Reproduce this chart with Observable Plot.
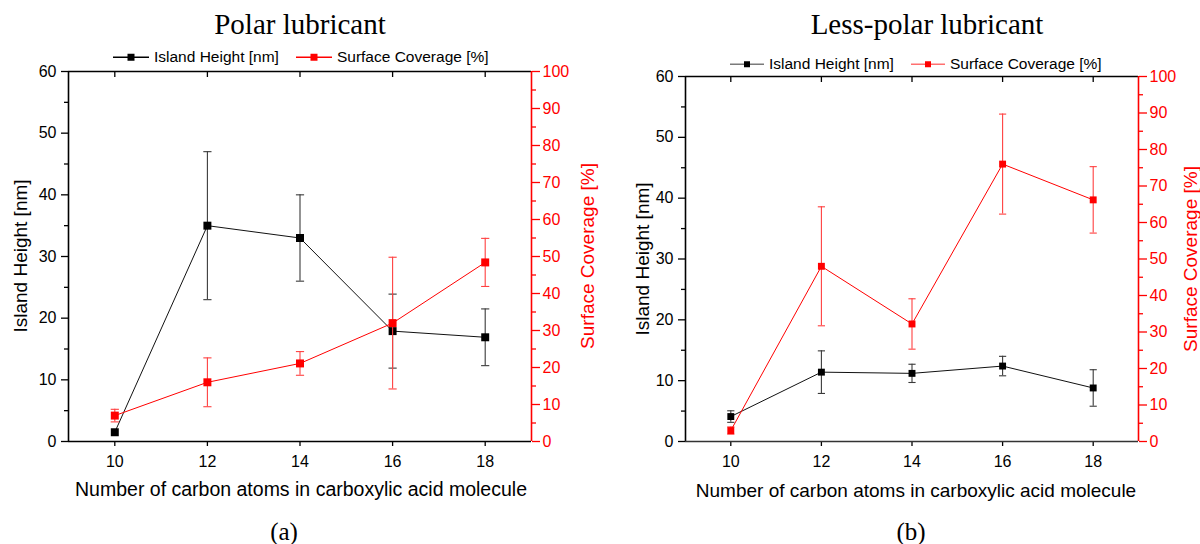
<!DOCTYPE html>
<html><head><meta charset="utf-8">
<script src="https://cdn.jsdelivr.net/npm/d3@7"></script>
<script src="https://cdn.jsdelivr.net/npm/@observablehq/plot@0.6"></script>
<style>
html,body{margin:0;padding:0;background:#fff;}
#root{position:relative;width:1200px;height:544px;overflow:hidden;font-family:"Liberation Sans",Arial,sans-serif;color:#000;}
.panel{position:absolute;top:0;width:600px;height:544px;}
.abs{position:absolute;white-space:nowrap;line-height:1;transform:translate(-50%,-50%);}
.title{font-family:"Liberation Serif","Times New Roman",serif;font-size:29px;}
.cap{font-family:"Liberation Serif","Times New Roman",serif;font-size:25px;}
.xt{font-size:19px;}
.yt{font-size:19px;transform:translate(-50%,-50%) rotate(-90deg);}
.legend{position:absolute;display:flex;align-items:center;font-size:15.5px;line-height:1;white-space:nowrap;transform:translateY(-50%);}
.legend svg{display:block;}
</style></head>
<body><div id="root"></div>
<script>
// ---- data ----
const carbonAtoms = [10, 12, 14, 16, 18];
const polarHeight = [1.5, 35.0, 33.0, 17.9, 16.9];
const polarHeightErr = [0, 12.0, 7.0, 6.0, 4.6];
const polarCoverage = [7.0, 16.0, 21.1, 32.0, 48.4];
const polarCoverageErr = [1.7, 6.6, 3.2, 17.8, 6.5];
const lessPolarHeight = [4.1, 11.4, 11.2, 12.4, 8.8];
const lessPolarHeightErr = [0.95, 3.5, 1.5, 1.6, 3.0];
const lessPolarCoverage = [3.0, 48.0, 32.2, 76.0, 66.2];
const lessPolarCoverageErr = [1.0, 16.3, 6.9, 13.7, 9.1];
const xTicks = [10, 12, 14, 16, 18];
const leftTicks = [0, 10, 20, 30, 40, 50, 60];
const leftMinor = [5, 15, 25, 35, 45, 55];
const rightTicks = [0, 10, 20, 30, 40, 50, 60, 70, 80, 90, 100];
const rightMinor = [5, 15, 25, 35, 45, 55, 65, 75, 85, 95];
const seriesNames = ["Island Height [nm]", "Surface Coverage [%]"];
const panelTitles = ["Polar lubricant", "Less-polar lubricant"];
const xTitle = "Number of carbon atoms in carboxylic acid molecule";
const captions = ["(a)", "(b)"];

const RED = "#ff0000";
const K = 60 / 100; // right axis (0-100) onto left axis (0-60)

const capSymbol = {
  draw(ctx, size) { const r = Math.sqrt(size / Math.PI); ctx.moveTo(-r, 0); ctx.lineTo(r, 0); }
};

function errMarks(data, yKey, eKey, stroke, capR, sw) {
  const bars = data.filter(d => d[eKey] > 0);
  return [
    Plot.ruleX(bars, {x: "c", y1: d => d[yKey] - d[eKey], y2: d => d[yKey] + d[eKey], stroke, strokeWidth: sw}),
    Plot.dot(bars, {x: "c", y: d => d[yKey] + d[eKey], symbol: capSymbol, r: capR, stroke, strokeWidth: sw, fill: "none"}),
    Plot.dot(bars, {x: "c", y: d => d[yKey] - d[eKey], symbol: capSymbol, r: capR, stroke, strokeWidth: sw, fill: "none"})
  ];
}

function makePanel(o) {
  const rows = carbonAtoms.map((c, i) => ({c, h: o.h[i], he: o.he[i], v: o.v[i] * K, ve: o.ve[i] * K}));
  return Plot.plot({
    width: 600, height: 544,
    marginLeft: o.ml, marginRight: o.mr, marginTop: o.mt, marginBottom: o.mb,
    x: {domain: [9, 19]},
    y: {domain: [0, 60]},
    style: {fontFamily: '"Liberation Sans", Arial, sans-serif', fontSize: "16px", background: "transparent", color: "#000"},
    marks: [
      Plot.axisY(leftTicks, {anchor: "left", tickSize: 7, tickPadding: 5, label: null, color: "#000", strokeWidth: 1.3}),
      Plot.axisY(leftMinor, {anchor: "left", tickSize: 4, label: null, stroke: "#000", fill: "none", strokeWidth: 1.3}),
      Plot.axisY(rightTicks.map(t => t * K), {anchor: "right", tickSize: 8, tickPadding: 3, label: null, color: RED, strokeWidth: 1.3, tickFormat: d => String(Math.round(d / K))}),
      Plot.axisY(rightMinor.map(t => t * K), {anchor: "right", tickSize: 4, label: null, stroke: RED, fill: "none", strokeWidth: 1.3}),
      Plot.axisX(xTicks, {anchor: "bottom", tickSize: 5, tickPadding: 9, label: null, color: "#000", strokeWidth: 1.3}),
      Plot.axisX(xTicks, {anchor: "top", tickSize: -5, label: null, stroke: "#000", fill: "none", strokeWidth: 1.3}),
      Plot.ruleX([9], {stroke: "#000", strokeWidth: 1.6}),
      Plot.ruleY([0], {stroke: o.bottomColor, strokeWidth: 1.6}),
      Plot.ruleY([60], {stroke: "#000", strokeWidth: 1.6}),
      Plot.ruleX([19], {stroke: RED, strokeWidth: 1.6}),
      ...errMarks(rows, "h", "he", "#3a3a3a", o.capR, 1.1),
      Plot.line(rows, {x: "c", y: "h", stroke: "#111", strokeWidth: 1}),
      Plot.dot(rows, {x: "c", y: "h", symbol: "square", r: o.markR, fill: "#000", stroke: "none"}),
      ...errMarks(rows, "v", "ve", "#ff4040", o.capR, 1.1),
      Plot.line(rows, {x: "c", y: "v", stroke: RED, strokeWidth: 1}),
      Plot.dot(rows, {x: "c", y: "v", symbol: "square", r: o.markR, fill: RED, stroke: "none"})
    ]
  });
}

function swatch(lineColor, fill, len, sq) {
  const s = `<svg width="${len}" height="12" viewBox="0 0 ${len} 12"><line x1="0" x2="${len}" y1="6" y2="6" stroke="${lineColor}" stroke-width="1.5"/><rect x="${(len - sq) / 2}" y="${6 - sq / 2}" width="${sq}" height="${sq}" fill="${fill}"/></svg>`;
  return s;
}

const root = document.getElementById("root");
const panels = [
  {left: 0, ml: 68, mr: 69, mt: 71, mb: 103, h: polarHeight, he: polarHeightErr, v: polarCoverage, ve: polarCoverageErr,
   markR: 4.5, capR: 4.1, bottomColor: "#000",
   titleX: 300, legendX: 113, legendY: 57, legendLen: 36, legendSq: 7, blackLine: "#000", redLine: RED,
   yTitleX: 20, rTitleX: 587, xTitleX: 301, xTitleSize: 19.5, capX: 284},
  {left: 600, ml: 85, mr: 62, mt: 76, mb: 103, h: lessPolarHeight, he: lessPolarHeightErr, v: lessPolarCoverage, ve: lessPolarCoverageErr,
   markR: 3.9, capR: 3.6, bottomColor: "#333",
   titleX: 327, legendX: 130, legendY: 64, legendLen: 34, legendSq: 6, blackLine: "#7a7a7a", redLine: "#ff7070",
   yTitleX: 42, rTitleX: 590, xTitleX: 316, xTitleSize: 19, capX: 311}
];

panels.forEach((p, i) => {
  const div = document.createElement("div");
  div.className = "panel";
  div.style.left = p.left + "px";
  const chart = makePanel(p);
  chart.style.position = "absolute";
  chart.style.left = "0px";
  chart.style.top = "0px";
  div.appendChild(chart);

  const midY = (p.mt + (544 - p.mb)) / 2;
  const add = (cls, text, x, y, color) => {
    const e = document.createElement("div");
    e.className = "abs " + cls;
    e.textContent = text;
    e.style.left = x + "px";
    e.style.top = y + "px";
    if (color) e.style.color = color;
    div.appendChild(e);
    return e;
  };
  add("title", panelTitles[i], p.titleX, 24);
  add("yt", seriesNames[0], p.yTitleX, midY, "#000");
  add("yt", seriesNames[1], p.rTitleX, midY, RED);
  add("xt", xTitle, p.xTitleX, 490).style.fontSize = p.xTitleSize + "px";
  add("cap", captions[i], p.capX, 531);

  const lg = document.createElement("div");
  lg.className = "legend";
  lg.style.left = p.legendX + "px";
  lg.style.top = p.legendY + "px";
  lg.innerHTML = swatch(p.blackLine, "#000", p.legendLen, p.legendSq) +
    `<span style="margin-left:5px">${seriesNames[0]}</span>` +
    `<span style="margin-left:17px"></span>` + swatch(p.redLine, RED, p.legendLen, p.legendSq) +
    `<span style="margin-left:5px">${seriesNames[1]}</span>`;
  div.appendChild(lg);

  root.appendChild(div);
});
</script>
</body></html>
